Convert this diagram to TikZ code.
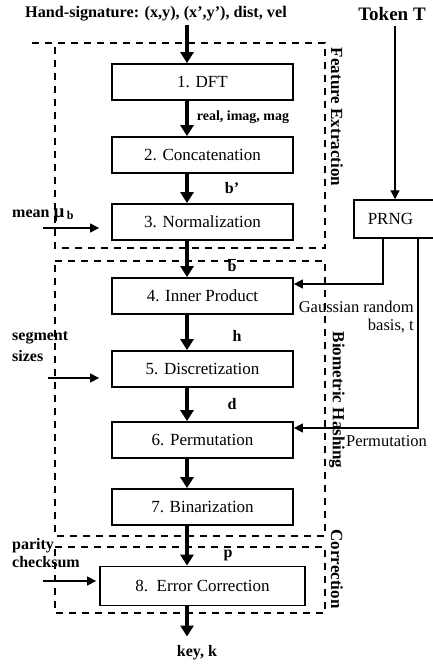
\documentclass[tikz,border=0pt]{standalone}
\usepackage{fontspec}
\setmainfont{Liberation Serif}
\usetikzlibrary{arrows.meta}
\begin{document}
\begin{tikzpicture}[x=1pt,y=-1pt,
  proc/.style={draw, line width=1.8pt, minimum width=181pt, minimum height=36pt, font=\fontsize{17}{19}\selectfont, inner sep=0pt},
  lbl/.style={font=\bfseries\fontsize{16}{18}\selectfont, inner sep=0pt},
  plain/.style={font=\fontsize{16.5}{18}\selectfont, inner sep=0pt},
  flow/.style={line width=3.2pt, -{Triangle[width=13pt,length=11pt]}},
  feed/.style={line width=1.3pt, -{Triangle[width=9pt,length=9pt]}},
  grp/.style={line width=1.2pt, dash pattern=on 7pt off 6pt},
  grptitle/.style={font=\bfseries\fontsize{17}{19}\selectfont, rotate=-90, inner sep=0pt}]
\useasboundingbox[fill=white] (0,0) rectangle (433,664);

% group frames
\draw[grp] (32,43) -- (325,43) -- (325,248) -- (55,248) -- (55,43);
\draw[grp] (55,261) -- (325,261) -- (325,536) -- (55,536) -- cycle;
\draw[grp] (55,547) -- (325,547) -- (325,613) -- (55,613) -- cycle;
\node[grptitle] (t1) at (337,117) {Feature Extraction};
\node[grptitle] (t2) at (337,400) {Biometric Hashing};
\node[grptitle] (t3) at (337,569) {Correction};

% process boxes
\node[proc] (b1) at (202.5,82) {1. DFT};
\node[proc] (b2) at (202.5,155) {2. Concatenation};
\node[proc] (b3) at (202.5,222) {3. Normalization};
\node[proc] (b4) at (202.5,296) {4. Inner Product};
\node[proc] (b5) at (202.5,369) {5. Discretization};
\node[proc] (b6) at (202.5,440) {6. Permutation};
\node[proc] (b7) at (202.5,507) {7. Binarization};
\node[proc, minimum width=205pt, minimum height=39pt] (b8) at (202.5,586) {8.\ \ Error Correction};

\coordinate (ax) at (187,0);

% top input
\node[lbl, font=\bfseries\fontsize{16.2}{18}\selectfont] (hs) at (156,14) {Hand-signature: (x,y), (x’,y’), dist, vel};
\node[lbl, font=\bfseries\fontsize{19}{21}\selectfont] (tok) at (392,14) {Token T};
\node[lbl] (key) at (197,653) {key, k};

% main flow
\draw[flow, shorten <=3pt] (hs.south -| ax) -- (b1.north -| ax);
\draw[flow] (b1.south -| ax) -- (b2.north -| ax);
\draw[flow] (b2.south -| ax) -- (b3.north -| ax);
\draw[flow] (b3.south -| ax) -- (b4.north -| ax);
\draw[flow] (b4.south -| ax) -- (b5.north -| ax);
\draw[flow] (b5.south -| ax) -- (b6.north -| ax);
\draw[flow] (b6.south -| ax) -- (b7.north -| ax);
\draw[flow] (b7.south -| ax) -- (b8.north -| ax);
\draw[flow, shorten >=9pt] (b8.south -| ax) -- (key.north -| ax);

% flow labels
\node[lbl, font=\bfseries\fontsize{14}{16}\selectfont] (l1) at (243,117) {real, imag, mag};
\node[lbl] (l2) at (232,188) {b’};
\node[lbl] (l3) at (232,265) {$\overline{\mbox{b}}$};
\node[lbl] (l4) at (237,336) {h};
\node[lbl] (l5) at (232,404) {d};
\node[lbl] (l6) at (228,555) {p};

% left inputs
\node[lbl, anchor=west] (mu) at (12,215) {mean {\fontsize{19}{19}\selectfont μ}\,{\raisebox{-2pt}{\fontsize{12}{12}\selectfont b}}};
\coordinate (m0) at (43,228);
\draw[feed, shorten >=12pt] (m0) -- (b3.west |- m0);
\node[lbl, anchor=west, align=left] (seg) at (12,347) {segment\\[3pt]sizes};
\coordinate (s0) at (48,378);
\draw[feed, shorten >=12pt] (s0) -- (b5.west |- s0);
\node[lbl, anchor=west, align=left] (par) at (12,553) {parity\\checksum};
\coordinate (p0) at (43,581);
\draw[feed, shorten >=3pt] (p0) -- (b8.west |- p0);

% token / PRNG
\node[draw, line width=1.5pt, anchor=west, text width=62pt, inner xsep=14pt, minimum height=38pt, align=left, font=\fontsize{17}{19}\selectfont] (prng) at (353,219) {PRNG};
\coordinate (tk) at (395,0);
\draw[feed, shorten <=5pt] (tok.south -| tk) -- (prng.north -| tk);
\coordinate (g1) at (383,284);
\draw[feed] (prng.south -| g1) -- (g1) -- (b4.east |- g1);
\coordinate (g2) at (418,428);
\draw[feed] (prng.south -| g2) -- (g2) -- (b6.east |- g2);
\node[plain, anchor=east, align=right] (gl) at (414,317) {Gaussian random\\basis, t};
\node[plain, anchor=west] (pl) at (346,441) {Permutation};
\end{tikzpicture}
\end{document}
